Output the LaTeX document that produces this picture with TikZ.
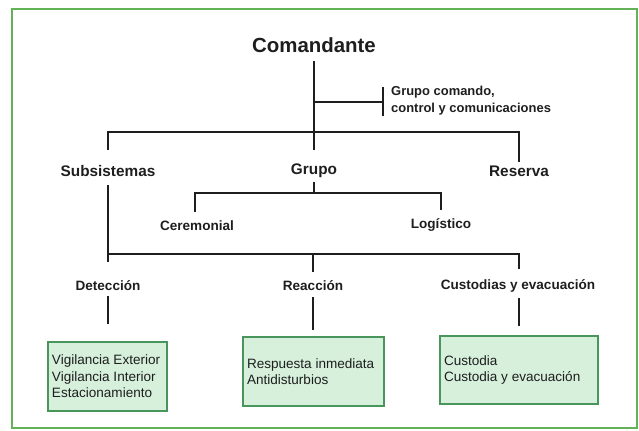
\documentclass[tikz,border=0pt]{standalone}
\usepackage{fontspec}
\setmainfont{Liberation Sans}
\definecolor{framegreen}{RGB}{100,178,88}
\definecolor{boxfill}{RGB}{214,240,220}
\definecolor{boxdraw}{RGB}{72,150,92}
\definecolor{ink}{RGB}{30,30,30}
\begin{document}
\begin{tikzpicture}[x=1bp,y=-1bp,
  conn/.style={draw=ink,line width=1.3bp},
  title/.style={font=\fontsize{20.5}{24}\selectfont\bfseries,text=ink,inner sep=0pt},
  head/.style={font=\fontsize{15.4}{18}\selectfont\bfseries,text=ink,inner sep=0pt},
  sub/.style={font=\fontsize{13.6}{16}\selectfont\bfseries,text=ink,inner sep=0pt},
  note/.style={font=\fontsize{13}{17}\selectfont\bfseries,text=ink,inner sep=0pt,align=left,anchor=west},
  leaf/.style={draw=boxdraw,line width=2bp,fill=boxfill,align=flush left,inner xsep=4bp,inner ysep=0pt,
    font=\fontsize{13.6}{16.5}\selectfont,text=ink}
]
\useasboundingbox (0,0) rectangle (639,430);
\draw[framegreen,line width=2.2bp] (12,9) rectangle (637,428);

% top
\node[title] (com) at (314,45) {Comandante};
\coordinate (c0) at (314,61);
\coordinate (c1) at (314,102);
\coordinate (c2) at (314,132);
\coordinate (c3) at (314,150);
\coordinate (t0) at (383,102);
\coordinate (t1) at (383,87);
\coordinate (t2) at (383,116);
\node[note] (gcc) at (391,101) {Grupo comando,\\control y comunicaciones};
\draw[conn] (c0) -- (c3);
\draw[conn] (c1) -- (t0);
\draw[conn] (t1) -- (t2);

% second level
\node[head] (sub) at (108,171) {Subsistemas};
\node[head] (grp) at (314,171) {Grupo};
\node[head] (res) at (519,171) {Reserva};
\coordinate (h1) at (108,132);
\coordinate (h2) at (519,132);
\coordinate (h1d) at (108,150);
\coordinate (h2d) at (519,162);
\draw[conn] (h1d) -- (h1) -- (h2) -- (h2d);

% grupo branch
\coordinate (g0) at (314,182);
\coordinate (g1) at (314,193);
\coordinate (gl) at (195,193);
\coordinate (gr) at (441,193);
\coordinate (gld) at (195,212);
\coordinate (grd) at (441,210);
\node[sub] (cer) at (197,226) {Ceremonial};
\node[sub] (log) at (441,225) {Logístico};
\draw[conn] (g0) -- (g1);
\draw[conn] (gld) -- (gl) -- (gr) -- (grd);

% subsistemas branch
\coordinate (s0) at (108,185);
\coordinate (s1) at (108,254);
\coordinate (s1x) at (108,262);
\coordinate (s2) at (313,254);
\coordinate (s3) at (519,254);
\coordinate (s2d) at (313,272);
\coordinate (s3d) at (519,269);
\draw[conn] (s0) -- (s1x);
\draw[conn] (s1) -- (s3) -- (s3d);
\draw[conn] (s2) -- (s2d);

\node[sub] (det) at (108,286) {Detección};
\node[sub] (rea) at (313,286) {Reacción};
\node[sub] (cus) at (518,286) {Custodias y evacuación};

% boxes
\node[leaf,text width=111bp,minimum height=69bp] (b1) at (107.5,376.5)
  {Vigilancia Exterior\\Vigilancia Interior\\Estacionamiento};
\node[leaf,text width=133bp,minimum height=69bp] (b2) at (313.5,371.5)
  {Respuesta inmediata\\Antidisturbios};
\node[leaf,text width=150bp,minimum height=68bp] (b3) at (519,370)
  {Custodia\\Custodia y evacuación};

\coordinate (d1) at (108,296);
\coordinate (d1b) at (108,324);
\coordinate (d2) at (313,297);
\coordinate (d2b) at (313,330);
\coordinate (d3) at (519,298);
\coordinate (d3b) at (519,326);
\draw[conn] (d1) -- (d1b);
\draw[conn] (d2) -- (d2b);
\draw[conn] (d3) -- (d3b);
\end{tikzpicture}
\end{document}
